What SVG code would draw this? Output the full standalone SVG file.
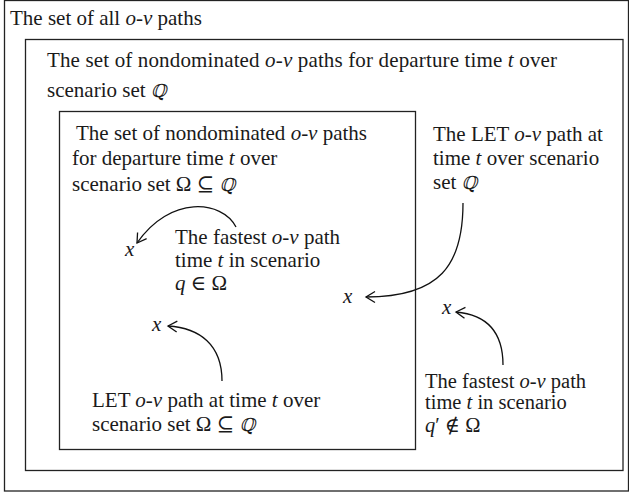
<svg xmlns="http://www.w3.org/2000/svg" width="629" height="492" viewBox="0 0 629 492">
<style>
text{font-family:"Liberation Serif","DejaVu Serif",serif;font-size:21px;fill:#1a1a1a}
.i{font-style:italic}
.q{font-family:"DejaVu Serif",serif;font-style:italic;font-size:18px}
.box{fill:none;stroke:#222;stroke-width:1.3}
.con{fill:none;stroke:#111;stroke-width:1.3}
</style>
<defs>
<marker id="ah" markerUnits="userSpaceOnUse" markerWidth="14" markerHeight="14" refX="12" refY="7" orient="auto">
<path d="M3,1.5 L12,7 L3,12.5" fill="none" stroke="#111" stroke-width="1.3"/>
</marker>
</defs>
<rect width="629" height="492" fill="#fff"/>
<g id="all">
<rect class="box" x="4.5" y="0.5" width="624" height="490.5"/>
<text x="10" y="25">The set of all <tspan class="i">o-v</tspan> paths</text>
</g>
<g id="nondominated-Q">
<rect class="box" x="25.5" y="39.5" width="597.5" height="431"/>
<text x="47" y="67" textLength="510">The set of nondominated <tspan class="i">o-v</tspan> paths for departure time <tspan class="i">t</tspan> over</text>
<text x="47" y="97">scenario set <tspan class="q">ℚ</tspan></text>
</g>
<g id="nondominated-Omega">
<rect class="box" x="59.5" y="111.5" width="356" height="338"/>
<text x="76" y="140">The set of nondominated <tspan class="i">o-v</tspan> paths</text>
<text x="72" y="165">for departure time <tspan class="i">t</tspan> over</text>
<text x="72" y="191">scenario set Ω ⊆ <tspan class="q">ℚ</tspan></text>
</g>
<g id="fastest-q">
<text class="i" x="125" y="256">x</text>
<text x="175" y="244">The fastest <tspan class="i">o-v</tspan> path</text>
<text x="175" y="267">time <tspan class="i">t</tspan> in scenario</text>
<text x="175" y="290"><tspan class="i">q</tspan> ∈ Ω</text>
</g>
<g id="let-omega">
<text class="i" x="152" y="331">x</text>
<text x="92" y="407">LET <tspan class="i">o-v</tspan> path at time <tspan class="i">t</tspan> over</text>
<text x="92" y="431">scenario set Ω ⊆ <tspan class="q">ℚ</tspan></text>
</g>
<g id="let-Q">
<text class="i" x="343" y="303">x</text>
<text x="433" y="141">The LET <tspan class="i">o-v</tspan> path at</text>
<text x="433" y="165">time <tspan class="i">t</tspan> over scenario</text>
<text x="433" y="189">set <tspan class="q">ℚ</tspan></text>
</g>
<g id="fastest-q-prime" style="font-size:20px">
<text class="i" x="442" y="314" style="font-size:21px">x</text>
<text x="425" y="388" style="font-size:20.5px">The fastest <tspan class="i">o-v</tspan> path</text>
<text x="425" y="409" style="font-size:20.5px">time <tspan class="i">t</tspan> in scenario</text>
<text x="425" y="432" style="font-size:20.5px"><tspan class="i">q</tspan>′ ∉ Ω</text>
</g>
<g id="connectors">
<path class="con" d="M236,227 C222,200 170,195 137,243" marker-end="url(#ah)"/>
<path class="con" d="M222,381 C222,345 200,328 168,326" marker-end="url(#ah)"/>
<path class="con" d="M463,203 C463,265 440,297 366,297" marker-end="url(#ah)"/>
<path class="con" d="M503,365 C503,335 490,315 456,312" marker-end="url(#ah)"/>
</g>
</svg>
